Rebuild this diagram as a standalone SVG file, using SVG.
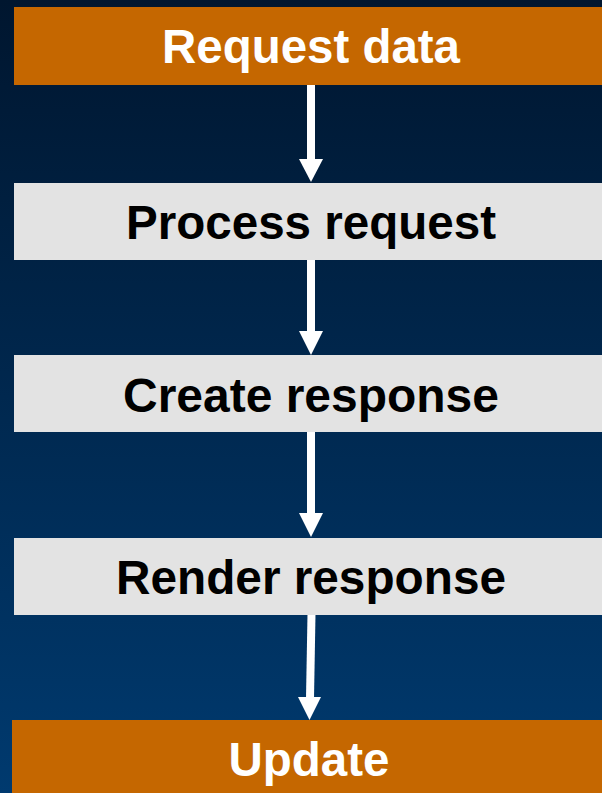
<svg xmlns="http://www.w3.org/2000/svg" width="602" height="793" viewBox="0 0 602 793">
  <defs>
    <linearGradient id="bg" x1="0" y1="0" x2="0" y2="1">
      <stop offset="0" stop-color="#00162f"/>
      <stop offset="1" stop-color="#003a6f"/>
    </linearGradient>
    <style>
      .orange { fill: #c56700; }
      .grey { fill: #e3e3e3; }
      .lbl { font-family: "Liberation Sans", Arial, sans-serif; font-weight: bold; font-size: 47.5px; text-anchor: middle; }
      .w { fill: #ffffff; }
      .k { fill: #000000; }
      .shaft { stroke: #ffffff; stroke-width: 8; fill: none; }
      .head { fill: #ffffff; }
    </style>
  </defs>
  <rect x="0" y="0" width="602" height="793" fill="url(#bg)"/>

  <g id="connectors">
    <path class="shaft" d="M311 85 L311 160"/>
    <polygon class="head" points="299,159 323,159 311,182"/>
    <path class="shaft" d="M311 260 L311 332"/>
    <polygon class="head" points="299,331 323,331 311,355"/>
    <path class="shaft" d="M311 432 L311 514"/>
    <polygon class="head" points="299,513 323,513 311,537"/>
    <path class="shaft" d="M311.5 614 L310 698"/>
    <polygon class="head" points="298,697 321,697 309.5,720"/>
  </g>

  <g id="node-request-data">
    <rect class="orange" x="14" y="7" width="588" height="78"/>
    <text class="lbl w" x="311" y="63" textLength="298" lengthAdjust="spacingAndGlyphs">Request data</text>
  </g>
  <g id="node-process-request">
    <rect class="grey" x="14" y="183" width="588" height="77"/>
    <text class="lbl k" x="311" y="239" textLength="370" lengthAdjust="spacingAndGlyphs">Process request</text>
  </g>
  <g id="node-create-response">
    <rect class="grey" x="14" y="355" width="588" height="77"/>
    <text class="lbl k" x="311" y="411.5" textLength="376" lengthAdjust="spacingAndGlyphs">Create response</text>
  </g>
  <g id="node-render-response">
    <rect class="grey" x="14" y="538" width="588" height="77"/>
    <text class="lbl k" x="311" y="594" textLength="390" lengthAdjust="spacingAndGlyphs">Render response</text>
  </g>
  <g id="node-update">
    <rect class="orange" x="12" y="720" width="590" height="73"/>
    <text class="lbl w" x="309" y="776" textLength="161" lengthAdjust="spacingAndGlyphs">Update</text>
  </g>
</svg>
